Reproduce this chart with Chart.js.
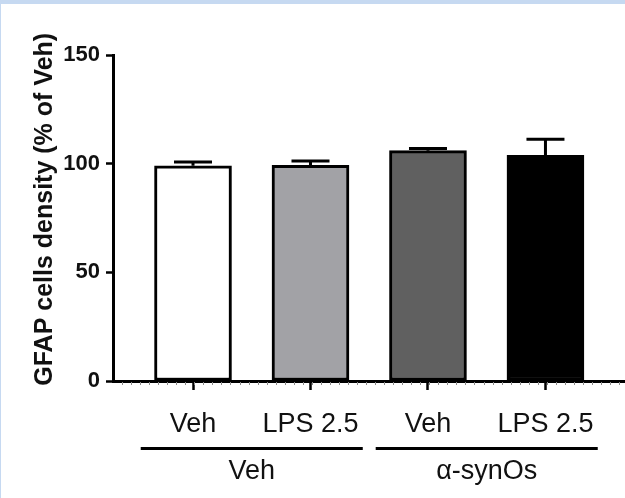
<!DOCTYPE html>
<html>
<head>
<meta charset="utf-8">
<script src="https://cdn.jsdelivr.net/npm/chart.js@4"></script>
<style>
  html, body { margin: 0; padding: 0; background: #fff; }
  #frame {
    position: absolute; left: 0; top: 0;
    width: 624px; height: 494px;
    border-top: 4px solid #c6d9f1;
    border-left: 1px solid #c6d9f1;
    background: #fff;
  }
</style>
</head>
<body>
<div id="frame"><canvas id="gfapChart" width="624" height="494"></canvas></div>
<script>
// values
const categories = ['Veh', 'LPS 2.5', 'Veh', 'LPS 2.5'];
const groups = ['Veh', 'α-synOs'];
const groupCenters = [1.5, 3.5];
const means = [99, 99.2, 106, 103.8];
const sems = [1.8, 2.0, 1.0, 7.4];
const yTicks = [0, 50, 100, 150];
const yTitle = 'GFAP cells density (% of Veh)';
const barColors = ['#ffffff', '#a2a2a6', '#606060', '#000000'];

const FONT = 'Liberation Sans, Arial, sans-serif';

// upward error bars (mean + SEM)
const errorBars = {
    id: 'errorBars',
    afterDatasetsDraw(chart) {
        const { ctx, scales: { y } } = chart;
        const meta = chart.getDatasetMeta(0);
        ctx.save();
        ctx.strokeStyle = '#000';
        ctx.lineWidth = 3;
        meta.data.forEach((bar, i) => {
            const yTop = y.getPixelForValue(means[i] + sems[i]);
            const yMean = y.getPixelForValue(means[i]);
            ctx.beginPath();
            ctx.moveTo(bar.x, yMean);
            ctx.lineTo(bar.x, yTop);
            ctx.moveTo(bar.x - 19, yTop);
            ctx.lineTo(bar.x + 19, yTop);
            ctx.stroke();
        });
        ctx.restore();
    }
};

// minor ticks on the x axis, group brackets, y title (sits a bit above the axis centre)
const decor = {
    id: 'decor',
    afterDraw(chart) {
        const { ctx, chartArea, scales: { x, y } } = chart;
        ctx.save();
        ctx.strokeStyle = '#8a8a8a';
        ctx.lineWidth = 1;
        const step = (x.getPixelForValue(2) - x.getPixelForValue(1)) / 13;
        for (let px = chartArea.left + step; px < chartArea.right; px += step) {
            ctx.beginPath();
            ctx.moveTo(Math.round(px) + 0.5, chartArea.bottom + 1);
            ctx.lineTo(Math.round(px) + 0.5, chartArea.bottom + 4);
            ctx.stroke();
        }

        ctx.strokeStyle = '#000';
        ctx.lineWidth = 3;
        ctx.fillStyle = '#111';
        ctx.font = '27px ' + FONT;
        ctx.textAlign = 'center';
        ctx.textBaseline = 'middle';
        groups.forEach((g, i) => {
            const x0 = x.getPixelForValue(groupCenters[i] - 0.945);
            const x1 = x.getPixelForValue(groupCenters[i] + 0.945);
            ctx.beginPath();
            ctx.moveTo(x0, 444.5);
            ctx.lineTo(x1, 444.5);
            ctx.stroke();
            ctx.fillText(g, (x0 + x1) / 2, 468);
        });

        ctx.translate(44, y.getPixelForValue(79));
        ctx.rotate(-Math.PI / 2);
        ctx.font = 'bold 25px ' + FONT;
        ctx.fillText(yTitle, 0, 0);
        ctx.restore();
    }
};

new Chart(document.getElementById('gfapChart'), {
    type: 'bar',
    data: {
        datasets: [{
            data: means.map((m, i) => ({ x: i + 1, y: m })),
            backgroundColor: barColors,
            borderColor: '#000',
            borderWidth: 3,
            borderSkipped: false,
            barThickness: 77
        }]
    },
    options: {
        responsive: false,
        animation: false,
        layout: { padding: { top: 51, left: 0, right: 0, bottom: 0 } },
        plugins: { legend: { display: false }, tooltip: { enabled: false } },
        scales: {
            x: {
                type: 'linear',
                offset: false,
                min: 0.319,
                max: 4.677,
                afterBuildTicks: (scale) => { scale.ticks = categories.map((c, i) => ({ value: i + 1 })); },
                afterFit: (scale) => { scale.height = 117; },
                border: { color: '#000', width: 3 },
                grid: { offset: false, drawOnChartArea: false, drawTicks: true, tickLength: 9, tickWidth: 2.5, tickColor: '#000' },
                ticks: {
                    callback: (v) => categories[v - 1] || '',
                    color: '#111',
                    padding: 18,
                    maxRotation: 0,
                    autoSkip: false,
                    font: { family: FONT, size: 27 }
                }
            },
            y: {
                min: 0,
                max: 150,
                afterBuildTicks: (scale) => { scale.ticks = yTicks.map(v => ({ value: v })); },
                afterFit: (scale) => { scale.width = 112; },
                border: { color: '#000', width: 3 },
                grid: { drawOnChartArea: false, drawTicks: true, tickLength: 7, tickWidth: 2.5, tickColor: '#000' },
                ticks: {
                    color: '#111',
                    padding: 6,
                    font: { family: FONT, size: 22, weight: 'bold' }
                }
            }
        }
    },
    plugins: [errorBars, decor]
});
</script>
</body>
</html>
